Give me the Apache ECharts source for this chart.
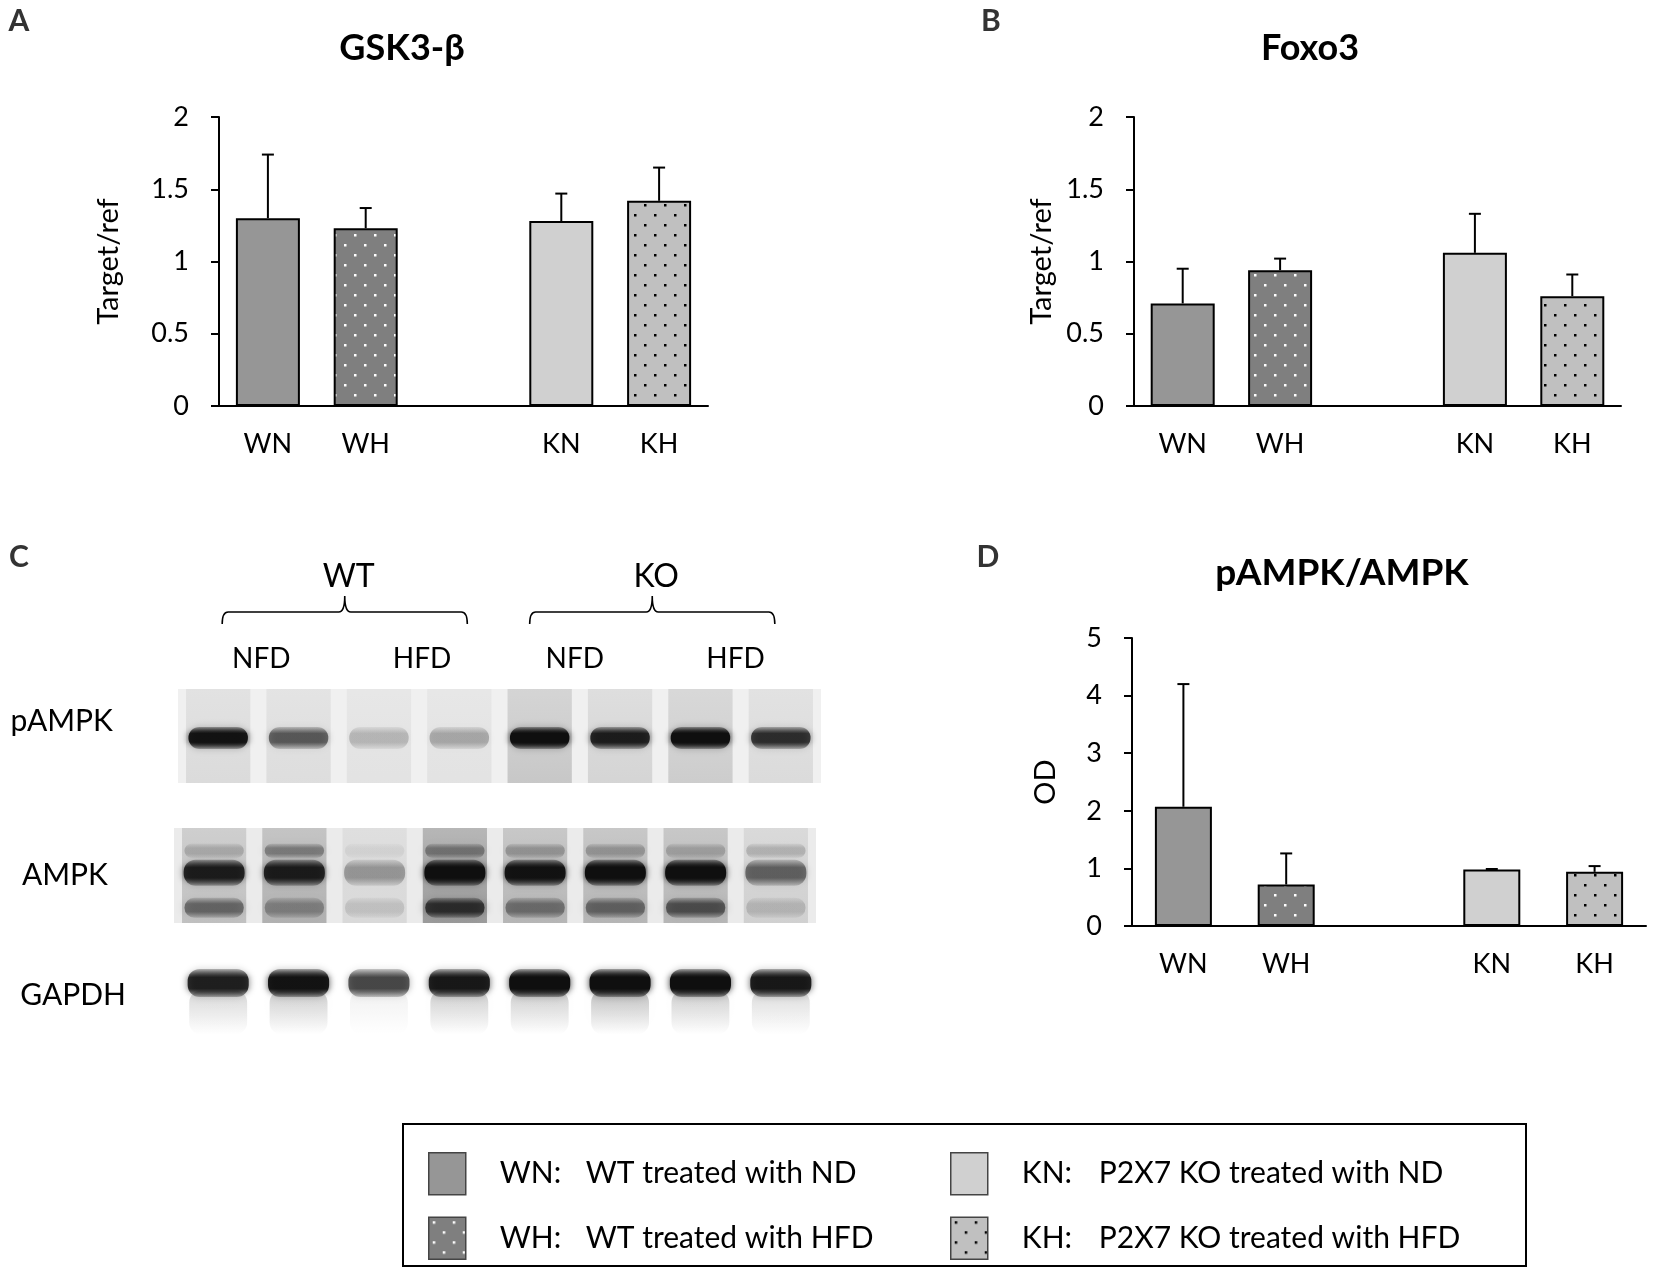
<!DOCTYPE html>
<html>
<head>
<meta charset="utf-8">
<script src="https://cdn.jsdelivr.net/npm/echarts@6/dist/echarts.min.js"></script>
<style>
  html, body { margin: 0; padding: 0; background: #fff; }
  #main { width: 1653px; height: 1279px; }
</style>
</head>
<body>
<div id="main"></div>
<script>
// groups and x categories (blank slot between WT and KO)
const groups = ['WN', 'WH', 'KN', 'KH']
const categories = ['WN', 'WH', '', 'KN', 'KH']
const groupDesc = {
  WN: 'WT treated with ND',
  WH: 'WT treated with HFD',
  KN: 'P2X7 KO treated with ND',
  KH: 'P2X7 KO treated with HFD'
}

// A: GSK3-β, target/ref (mean, +SD)
const gskMean = [1.30, 1.23, 1.28, 1.42]
const gskErr = [0.44, 0.14, 0.19, 0.23]
// B: Foxo3
const foxoMean = [0.71, 0.94, 1.06, 0.76]
const foxoErr = [0.24, 0.08, 0.27, 0.15]
// D: pAMPK/AMPK, OD
const ampkMean = [2.07, 0.72, 0.98, 0.94]
const ampkErr = [2.13, 0.54, 0.01, 0.10]

// C: western blot, band darkness per lane (0..1)
const lanes = ['1', '2', '3', '4', '5', '6', '7', '8']
const pampkBand = [0.95, 0.55, 0.2, 0.26, 1.0, 0.85, 1.0, 0.75]
const pampkLane = [0.08, 0.07, 0.05, 0.05, 0.15, 0.1, 0.13, 0.08]
const ampkBand = [0.85, 0.85, 0.3, 1.0, 0.95, 1.0, 1.0, 0.5]
const ampkLow = [0.45, 0.3, 0.12, 0.7, 0.4, 0.45, 0.55, 0.15]
const ampkUp = [0.18, 0.35, 0.06, 0.35, 0.25, 0.25, 0.2, 0.18]
const ampkLane = [0.16, 0.22, 0.07, 0.3, 0.2, 0.2, 0.2, 0.1]
const gapdhBand = [0.85, 0.95, 0.65, 0.9, 1.0, 1.0, 1.0, 0.9]
const gapdhSmear = [0.16, 0.2, 0.06, 0.2, 0.2, 0.25, 0.2, 0.14]
const genotypes = [['WT', 0, 3], ['KO', 4, 7]]
const diets = [['NFD', 0, 1], ['HFD', 2, 3], ['NFD', 4, 5], ['HFD', 6, 7]]

const FONT = 'Lato, "Open Sans", sans-serif'

let dotPattern = (bg, dot) => {
  let c = document.createElement('canvas')
  c.width = 20
  c.height = 20
  let ctx = c.getContext('2d')
  ctx.fillStyle = bg
  ctx.fillRect(0, 0, 20, 20)
  ctx.fillStyle = dot
  ctx.fillRect(4, 4, 2.5, 2.5)
  ctx.fillRect(14, 14, 2.5, 2.5)
  return { image: c, repeat: 'repeat' }
}

const fills = {
  WN: '#969696',
  WH: dotPattern('#7f7f7f', '#ffffff'),
  KN: '#d0d0d0',
  KH: dotPattern('#c0c0c0', '#000000')
}

const chart = echarts.init(document.getElementById('main'))

let grids = [
  { left: 219, top: 117, width: 489, height: 289 },   // A
  { left: 1134, top: 117, width: 487, height: 289 },  // B
  { left: 1132, top: 638, width: 514, height: 288 },  // D
  { left: 178, top: 560, width: 643, height: 110 },   // C header
  { left: 178, top: 689, width: 643, height: 94, show: true, backgroundColor: '#f0f0f0', borderWidth: 0 },  // pAMPK
  { left: 174, top: 828, width: 642, height: 95, show: true, backgroundColor: '#ebebeb', borderWidth: 0 },  // AMPK
  { left: 178, top: 955, width: 643, height: 80 }     // GAPDH
]

let barX = (gi) => ({
  type: 'category', gridIndex: gi, data: categories,
  axisLine: { lineStyle: { color: '#000', width: 2 } },
  axisTick: { show: false },
  axisLabel: { interval: 0, color: '#000', fontSize: 27, fontFamily: FONT, margin: 25 }
})
let barY = (gi, max, step, name, gap) => ({
  type: 'value', gridIndex: gi, min: 0, max: max, interval: step,
  name: name, nameLocation: 'middle', nameGap: gap,
  nameTextStyle: { color: '#000', fontSize: 29, fontFamily: FONT },
  splitLine: { show: false },
  axisLine: { show: true, lineStyle: { color: '#000', width: 2 } },
  axisTick: { show: true, length: 8, lineStyle: { color: '#000', width: 2 } },
  axisLabel: { color: '#000', fontSize: 27, fontFamily: FONT, margin: 30 }
})
let laneX = (gi) => ({ type: 'category', gridIndex: gi, data: lanes, show: false })
let laneY = (gi, name, gap, va) => ({
  type: 'value', gridIndex: gi, min: 0, max: 1,
  name: name, nameLocation: 'middle', nameRotate: 0, nameGap: gap,
  nameTextStyle: { color: '#000', fontSize: 30, fontFamily: FONT, verticalAlign: va },
  axisLine: { show: false }, axisTick: { show: false }, axisLabel: { show: false }, splitLine: { show: false }
})

let series = []
let panels = [[gskMean, gskErr, 64], [foxoMean, foxoErr, 64], [ampkMean, ampkErr, 57]]
panels.forEach(([mean, err, bw], gi) => {
  groups.forEach((g, i) => {
    series.push({
      type: 'bar', name: g, xAxisIndex: gi, yAxisIndex: gi,
      barWidth: bw, barGap: '-100%',
      itemStyle: { color: fills[g], borderColor: '#000', borderWidth: 2 },
      data: categories.map(c => (c === g ? mean[i] : '-'))
    })
  })
  // error bars, upper side only
  series.push({
    type: 'custom', xAxisIndex: gi, yAxisIndex: gi, z: 3,
    data: groups.map((g, i) => [categories.indexOf(g), mean[i], mean[i] + err[i]]),
    renderItem: (params, api) => {
      let p0 = api.coord([api.value(0), api.value(1)])
      let p1 = api.coord([api.value(0), api.value(2)])
      let st = { stroke: '#000', lineWidth: 2 }
      return {
        type: 'group',
        children: [
          { type: 'line', shape: { x1: p0[0], y1: p0[1], x2: p1[0], y2: p1[1] }, style: st },
          { type: 'line', shape: { x1: p1[0] - 6, y1: p1[1], x2: p1[0] + 6, y2: p1[1] }, style: st }
        ]
      }
    }
  })
})

// blot pieces
let grey = (a) => 'rgba(15,15,15,' + Math.max(0, Math.min(1, a)) + ')'
let laneSeries = (gi, shade) => ({
  type: 'custom', xAxisIndex: gi, yAxisIndex: gi,
  data: shade.map((v, i) => [i, v]),
  renderItem: (params, api) => {
    let cs = params.coordSys
    let cx = api.coord([api.value(0), 0])[0]
    let w = api.size([1, 0])[0] * 0.8
    let a = api.value(1)
    return {
      type: 'rect',
      shape: { x: cx - w / 2, y: cs.y, width: w, height: cs.height },
      style: {
        fill: new echarts.graphic.LinearGradient(0, 0, 0, 1, [
          { offset: 0, color: grey(a * 0.8) },
          { offset: 0.5, color: grey(a) },
          { offset: 1, color: grey(a * 1.2) }
        ])
      }
    }
  }
})
// soft band: vertical gradient, blurred edges
let bandSeries = (gi, vals, yFrac, h, wFrac, blur, fade) => ({
  type: 'custom', xAxisIndex: gi, yAxisIndex: gi,
  data: vals.map((v, i) => [i, v]),
  renderItem: (params, api) => {
    let cs = params.coordSys
    let cx = api.coord([api.value(0), 0])[0]
    let w = api.size([1, 0])[0] * wFrac
    let cy = cs.y + cs.height * yFrac
    let a = api.value(1)
    let stops = fade
      ? [{ offset: 0, color: grey(a) }, { offset: 1, color: grey(0) }]
      : [{ offset: 0, color: grey(a * 0.3) }, { offset: 0.3, color: grey(a) }, { offset: 0.7, color: grey(a) }, { offset: 1, color: grey(a * 0.3) }]
    return {
      type: 'rect',
      shape: { x: cx - w / 2, y: cy - h / 2, width: w, height: h, r: Math.min(h / 2, 12) },
      style: {
        fill: new echarts.graphic.LinearGradient(0, 0, 0, 1, stops),
        shadowBlur: blur, shadowColor: grey(fade ? a * 0.4 : a * 0.8)
      }
    }
  }
})

series.push(laneSeries(4, pampkLane))
series.push(bandSeries(4, pampkBand, 0.52, 22, 0.74, 7))
series.push(laneSeries(5, ampkLane))
series.push(bandSeries(5, ampkUp, 0.24, 14, 0.74, 10))
series.push(bandSeries(5, ampkLow, 0.84, 20, 0.74, 10))
series.push(bandSeries(5, ampkBand, 0.47, 26, 0.76, 7))
series.push(bandSeries(6, gapdhSmear, 0.72, 44, 0.72, 14, true))
series.push(bandSeries(6, gapdhBand, 0.35, 28, 0.76, 7))

// header: braces with WT / KO, then diet labels (KO side sits a little closer to WT)
series.push({
  type: 'custom', xAxisIndex: 3, yAxisIndex: 3,
  data: genotypes.map(d => [d[1], d[2], d[0]]),
  renderItem: (params, api) => {
    let cs = params.coordSys
    let nudge = params.dataIndex === 0 ? 6 : -8
    let x0 = api.coord([api.value(0), 0])[0] - 2 + nudge
    let x1 = api.coord([api.value(1), 0])[0] + 2 + nudge
    let xm = (x0 + x1) / 2
    let yTop = cs.y + 36, yLine = cs.y + 52, yEnd = cs.y + 64
    let d = 'M' + x0 + ' ' + yEnd + ' Q' + x0 + ' ' + yLine + ' ' + (x0 + 6) + ' ' + yLine +
      ' L' + (xm - 6) + ' ' + yLine + ' Q' + xm + ' ' + yLine + ' ' + xm + ' ' + yTop +
      ' Q' + xm + ' ' + yLine + ' ' + (xm + 6) + ' ' + yLine +
      ' L' + (x1 - 6) + ' ' + yLine + ' Q' + x1 + ' ' + yLine + ' ' + x1 + ' ' + yEnd
    return {
      type: 'group',
      children: [
        {
          type: 'path',
          shape: { pathData: d, x: x0, y: yTop, width: x1 - x0, height: yEnd - yTop },
          style: { fill: null, stroke: '#000', lineWidth: 1.6 }
        },
        {
          type: 'text', x: xm + 4, y: cs.y + 17,
          style: { text: api.value(2), fill: '#000', font: '32px ' + FONT, textAlign: 'center', textVerticalAlign: 'middle' }
        }
      ]
    }
  }
})
series.push({
  type: 'custom', xAxisIndex: 3, yAxisIndex: 3,
  data: diets.map(d => [d[1], d[2], d[0]]),
  renderItem: (params, api) => {
    let cs = params.coordSys
    let nudge = params.dataIndex < 2 ? 3 : -5
    let x = (api.coord([api.value(0), 0])[0] + api.coord([api.value(1), 0])[0]) / 2 + nudge
    return {
      type: 'text', x: x, y: cs.y + 99,
      style: { text: api.value(2), fill: '#000', font: '28px ' + FONT, textAlign: 'center', textVerticalAlign: 'middle' }
    }
  }
})

let txt = (text, x, y, size, weight, color) => ({
  type: 'text', x: x, y: y,
  style: { text: text, fill: color, font: weight + ' ' + size + 'px ' + FONT, textAlign: 'center', textVerticalAlign: 'middle' }
})

let legendCol = (names, left, aw) => ({
  data: names,
  left: left, top: 1152,
  orient: 'vertical', icon: 'rect',
  itemWidth: 37, itemHeight: 42, itemGap: 21,
  padding: 0,
  selectedMode: false,
  itemStyle: { borderColor: '#444', borderWidth: 1.5 },
  formatter: (name) => '{a|' + name + ':}{b|' + groupDesc[name] + '}',
  textStyle: {
    color: '#000', fontFamily: FONT, fontSize: 30,
    rich: {
      a: { width: aw, padding: [0, 0, 0, 29], fontSize: 30, fontFamily: FONT, color: '#000' },
      b: { fontSize: 30, fontFamily: FONT, color: '#000' }
    }
  }
})

let option = {
  animation: false,
  backgroundColor: '#fff',
  grid: grids,
  xAxis: [barX(0), barX(1), barX(2), laneX(3), laneX(4), laneX(5), laneX(6)],
  yAxis: [
    barY(0, 2, 0.5, 'Target/ref', 96),
    barY(1, 2, 0.5, 'Target/ref', 78),
    barY(2, 5, 1, 'OD', 72),
    { type: 'value', gridIndex: 3, min: 0, max: 1, show: false },
    laneY(4, 'pAMPK', 65, 'bottom'),
    laneY(5, 'AMPK', 66, 'middle'),
    laneY(6, 'GAPDH', 52, 'middle')
  ],
  legend: [legendCol(['WN', 'WH'], 428, 86), legendCol(['KN', 'KH'], 950, 77)],
  graphic: [
    {
      type: 'rect', left: 402, top: 1123, z: -1,
      shape: { width: 1123, height: 142 },
      style: { fill: '#fff', stroke: '#000', lineWidth: 2 }
    },
    txt('A', 19, 21, 30, 'bold', '#333'),
    txt('B', 991, 21, 30, 'bold', '#333'),
    txt('C', 19, 557, 30, 'bold', '#333'),
    txt('D', 988, 557, 30, 'bold', '#333'),
    txt('GSK3-β', 402, 48, 36, 'bold', '#000'),
    txt('Foxo3', 1310, 48, 36, 'bold', '#000'),
    txt('pAMPK/AMPK', 1342, 573, 37, 'bold', '#000')
  ],
  series: series
}
chart.setOption(option)
</script>
</body>
</html>
